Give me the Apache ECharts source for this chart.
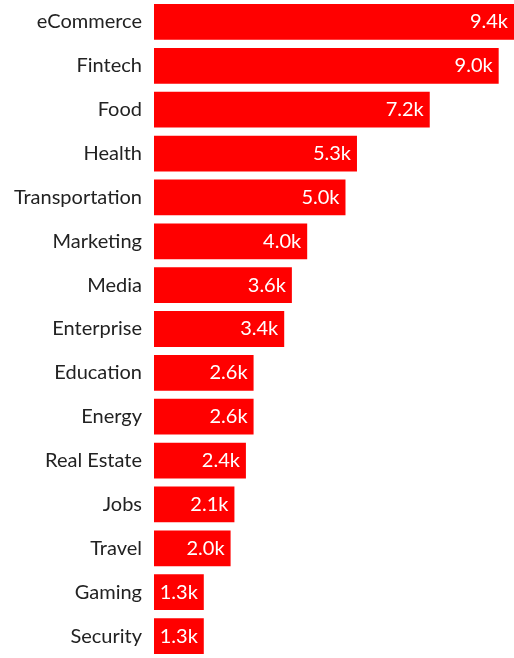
<!DOCTYPE html>
<html>
<head>
<meta charset="utf-8">
<script src="https://cdn.jsdelivr.net/npm/echarts@6/dist/echarts.min.js"></script>
<style>
  html, body { margin: 0; padding: 0; background: #fff; }
  #chart { width: 514px; height: 658px; }
</style>
</head>
<body>
<div id="chart"></div>
<script>
// Startup counts by sector, in thousands
const categories = ['eCommerce', 'Fintech', 'Food', 'Health', 'Transportation', 'Marketing', 'Media',
  'Enterprise', 'Education', 'Energy', 'Real Estate', 'Jobs', 'Travel', 'Gaming', 'Security'];
const values = [9.4, 9.0, 7.2, 5.3, 5.0, 4.0, 3.6, 3.4, 2.6, 2.6, 2.4, 2.1, 2.0, 1.3, 1.3];

const FONT = 'Lato';
const chart = echarts.init(document.getElementById('chart'), null, { renderer: 'canvas' });
chart.setOption({
  animation: false,
  textStyle: { fontFamily: FONT },
  grid: { left: 154, right: 0, top: 0, height: 663, containLabel: false },
  xAxis: {
    type: 'value', min: 0, max: 9.4, show: false,
    splitLine: { show: false }
  },
  yAxis: {
    type: 'category', data: categories, inverse: true,
    axisLine: { show: false }, axisTick: { show: false },
    axisLabel: { color: '#222', fontSize: 20, fontFamily: FONT, margin: 12 }
  },
  series: [{
    type: 'bar', data: values, barCategoryGap: '18.5%',
    itemStyle: { color: '#ff0000' },
    label: {
      show: true, position: 'insideRight', distance: 6,
      color: '#fff', fontSize: 20, fontFamily: FONT,
      formatter: p => p.value.toFixed(1) + 'k'
    }
  }]
});
</script>
</body>
</html>
